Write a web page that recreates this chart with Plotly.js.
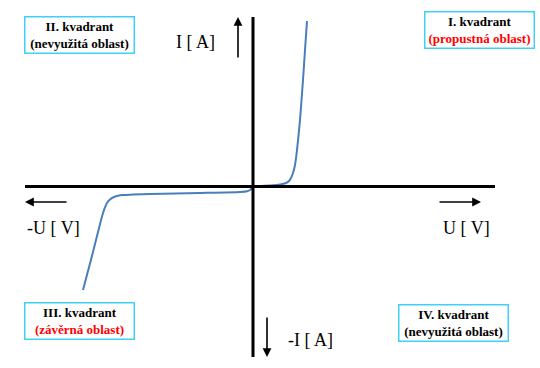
<!DOCTYPE html>
<html>
<head>
<meta charset="utf-8">
<script src="https://cdn.plot.ly/plotly-3.0.1.min.js"></script>
<style>html,body{margin:0;padding:0;background:#fff;}#chart{width:540px;height:368px;}</style>
</head>
<body>
<div id="chart"></div>
<script>
// Diode I-V characteristic (schematic units)
const voltage = [-17.0, -16.5, -16.0, -15.5, -15.0, -14.6, -14.3, -14.0, -13.5, -13.0, -12.0, -10.3, -5.3, -1.3, -0.6, -0.3, -0.1, 0.1, 0.7, 1.7, 2.7, 3.3, 3.6, 3.8, 4.0, 4.2, 4.4, 4.7, 5.0, 5.2, 5.4];
const current = [-10.35, -8.45, -6.55, -4.55, -2.65, -1.65, -1.3, -1.1, -0.93, -0.85, -0.81, -0.75, -0.65, -0.55, -0.48, -0.35, -0.15, 0, 0.05, 0.1, 0.2, 0.35, 0.55, 0.85, 1.35, 2.15, 3.65, 6.65, 10.65, 13.65, 16.55];

const axisLabels = ["I [ A]", "-U [ V]", "U [ V]", "-I [ A]"];
const quadrantTitles = ["I. kvadrant", "II. kvadrant", "III. kvadrant", "IV. kvadrant"];
const quadrantNotes = ["(propustná oblast)", "(nevyužitá oblast)", "(závěrná oblast)", "(nevyužitá oblast)"];

const serif = "'Liberation Serif', 'Times New Roman', serif";

const trace = {
  x: voltage, y: current, type: 'scatter', mode: 'lines',
  line: {color: '#4a7ebb', width: 2, shape: 'spline', smoothing: 0.6},
  hoverinfo: 'skip', showlegend: false
};

function box(x, y, i, red) {
  return {
    x: x, y: y, xref: 'x', yref: 'y', showarrow: false,
    text: '<b>' + quadrantTitles[i] + '</b><br><b><span style="color:' + (red ? '#ff0000' : '#000000') + '">' + quadrantNotes[i] + '</span></b>',
    font: {family: serif, size: 13, color: '#000000'},
    align: 'center', width: 106, height: 33,
    bordercolor: '#3fd0fa', borderwidth: 1.5, borderpad: 1, bgcolor: '#ffffff'
  };
}
function label(x, y, t) {
  return {x: x, y: y, xref: 'x', yref: 'y', showarrow: false, text: t,
    font: {family: serif, size: 18, color: '#000000'}};
}
function arrow(x, y, ax, ay) {
  return {x: x, y: y, ax: ax, ay: ay, xref: 'x', yref: 'y', axref: 'x', ayref: 'y',
    text: '', showarrow: true, arrowhead: 2, arrowsize: 1.1, arrowwidth: 1.6, arrowcolor: '#000000'};
}

const layout = {
  width: 540, height: 368,
  margin: {l: 0, r: 0, t: 0, b: 0},
  paper_bgcolor: '#ffffff', plot_bgcolor: '#ffffff',
  xaxis: {range: [-25.3, 28.7], showgrid: false, zeroline: false, showticklabels: false, showline: false, fixedrange: true},
  yaxis: {range: [-18.15, 18.65], showgrid: false, zeroline: false, showticklabels: false, showline: false, fixedrange: true},
  shapes: [
    {type: 'line', xref: 'x', yref: 'y', x0: -22.8, x1: 24.2, y0: 0, y1: 0, line: {color: '#000000', width: 3}},
    {type: 'line', xref: 'x', yref: 'y', x0: 0, x1: 0, y0: 16.95, y1: -17.05, line: {color: '#000000', width: 3}}
  ],
  annotations: [
    arrow(-1.5, 16.95, -1.5, 12.75),
    arrow(1.4, -17.05, 1.4, -12.95),
    arrow(-22.8, -1.55, -18.5, -1.55),
    arrow(22.8, -1.55, 18.5, -1.55),
    label(-5.8, 14.45, axisLabels[0]),
    label(-20.0, -4.15, axisLabels[1]),
    label(21.3, -4.15, axisLabels[2]),
    label(5.7, -15.35, axisLabels[3]),
    box(22.65, 15.7, 0, true),
    box(-17.4, 15.2, 1, false),
    box(-17.4, -13.4, 2, true),
    box(20.05, -13.65, 3, false)
  ]
};

Plotly.newPlot('chart', [trace], layout, {staticPlot: true, displayModeBar: false});
</script>
</body>
</html>
